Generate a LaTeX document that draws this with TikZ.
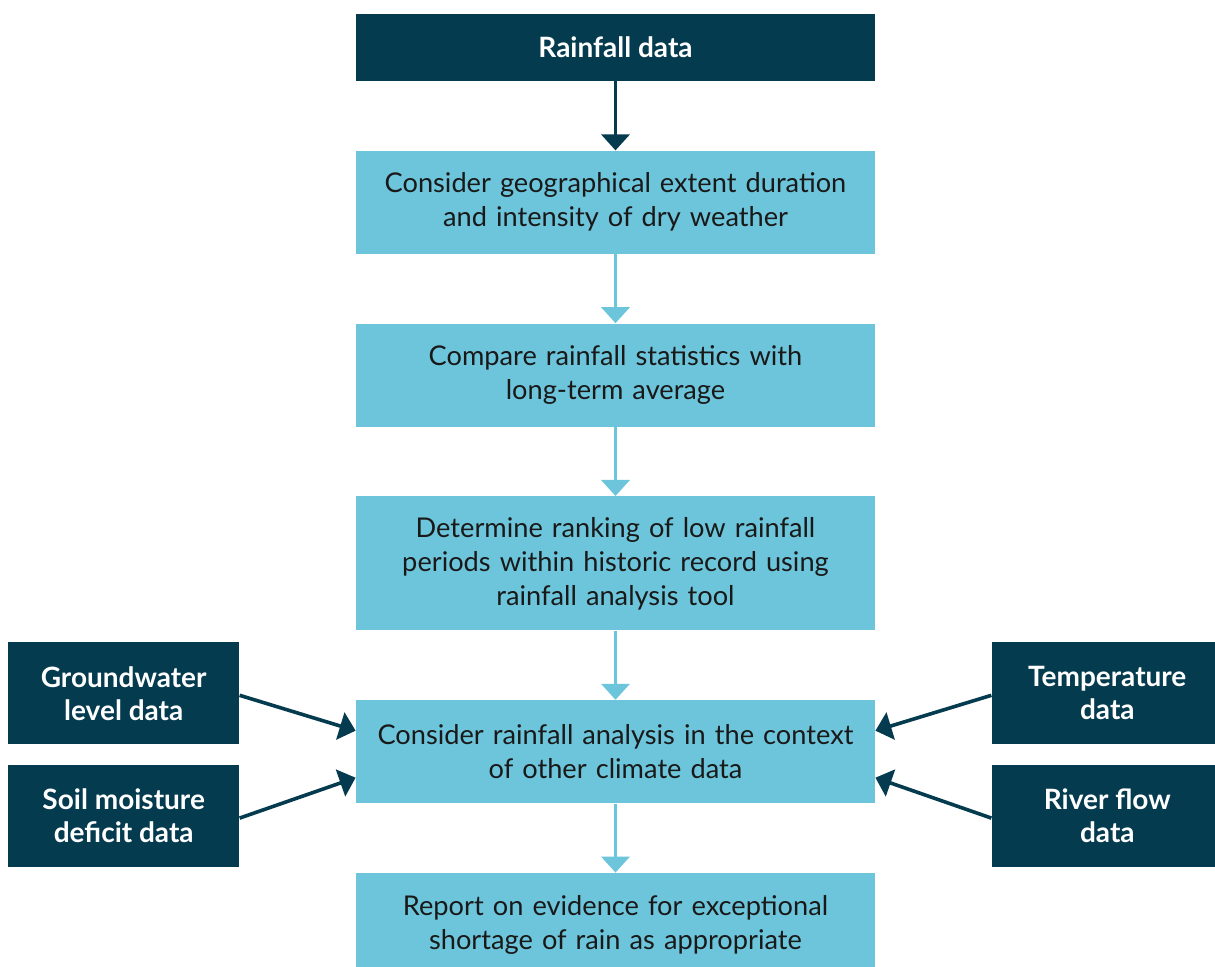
\documentclass[tikz,border=0pt]{standalone}
\usepackage{fontspec}
\setmainfont{Lato}
\usetikzlibrary{positioning, arrows.meta}
\usepackage{xcolor}
\definecolor{darkteal}{HTML}{053B4F}
\definecolor{lightblue}{HTML}{6DC5DB}

\begin{document}
\begin{tikzpicture}[
    x=0.5pt, y=-0.5pt,
    node distance=34.5pt,
    datain/.style={fill=darkteal, text=white, font=\fontsize{14}{16.5}\selectfont\bfseries, minimum width=115.5pt, minimum height=51pt, align=center, inner sep=0pt},
    stage/.style={fill=lightblue, text=black!90, font=\fontsize{13.6}{17}\selectfont, text width=259.5pt, minimum height=51.5pt, align=center, inner sep=0pt},
    line/.style={draw=lightblue, line width=1.8pt, -{Triangle[width=14pt,length=8pt]}},
    darkline/.style={line, draw=darkteal}
]

\path[use as bounding box, fill=white] (0,0) rectangle (1215,967);

% Nodes
\node[datain, minimum width=259.5pt, minimum height=33.5pt] (rain) at (615.5,47.5) {Rainfall data};
\node[stage, below=of rain] (extent) {Consider geographical extent duration\\and intensity of dry weather};
\node[stage, below=of extent] (compare) {Compare rainfall statistics with\\long-term average};
\node[stage, below=of compare, minimum height=67pt] (ranking) {Determine ranking of low rainfall\\periods within historic record using\\rainfall analysis tool};
\node[stage, below=of ranking] (context) {Consider rainfall analysis in the context\\of other climate data};
\node[stage, below=of context] (report) {Report on evidence for exceptional\\shortage of rain as appropriate};

\node[datain, anchor=south east] (ground) at ([xshift=-58pt, yshift=3.5pt]context.west) {Groundwater\\level data};
\node[datain, anchor=north east] (soil) at ([xshift=-58pt, yshift=-6.5pt]context.west) {Soil moisture\\deficit data};
\node[datain, anchor=south west] (temp) at ([xshift=58pt, yshift=3.5pt]context.east) {Temperature\\data};
\node[datain, anchor=north west] (river) at ([xshift=58pt, yshift=-6.5pt]context.east) {River flow\\data};

% Edges
\draw[darkline] (rain) -- (extent);
\draw[line] (extent) -- (compare);
\draw[line] (compare) -- (ranking);
\draw[line] (ranking) -- (context);
\draw[line] (context) -- (report);
\draw[darkline] ([yshift=-1pt]ground.east) -- ([yshift=10.5pt]context.west);
\draw[darkline] ([yshift=-1pt]soil.east) -- ([yshift=-13pt]context.west);
\draw[darkline] ([yshift=-1pt]temp.west) -- ([yshift=10.5pt]context.east);
\draw[darkline] ([yshift=-1pt]river.west) -- ([yshift=-13pt]context.east);

\end{tikzpicture}
\end{document}
